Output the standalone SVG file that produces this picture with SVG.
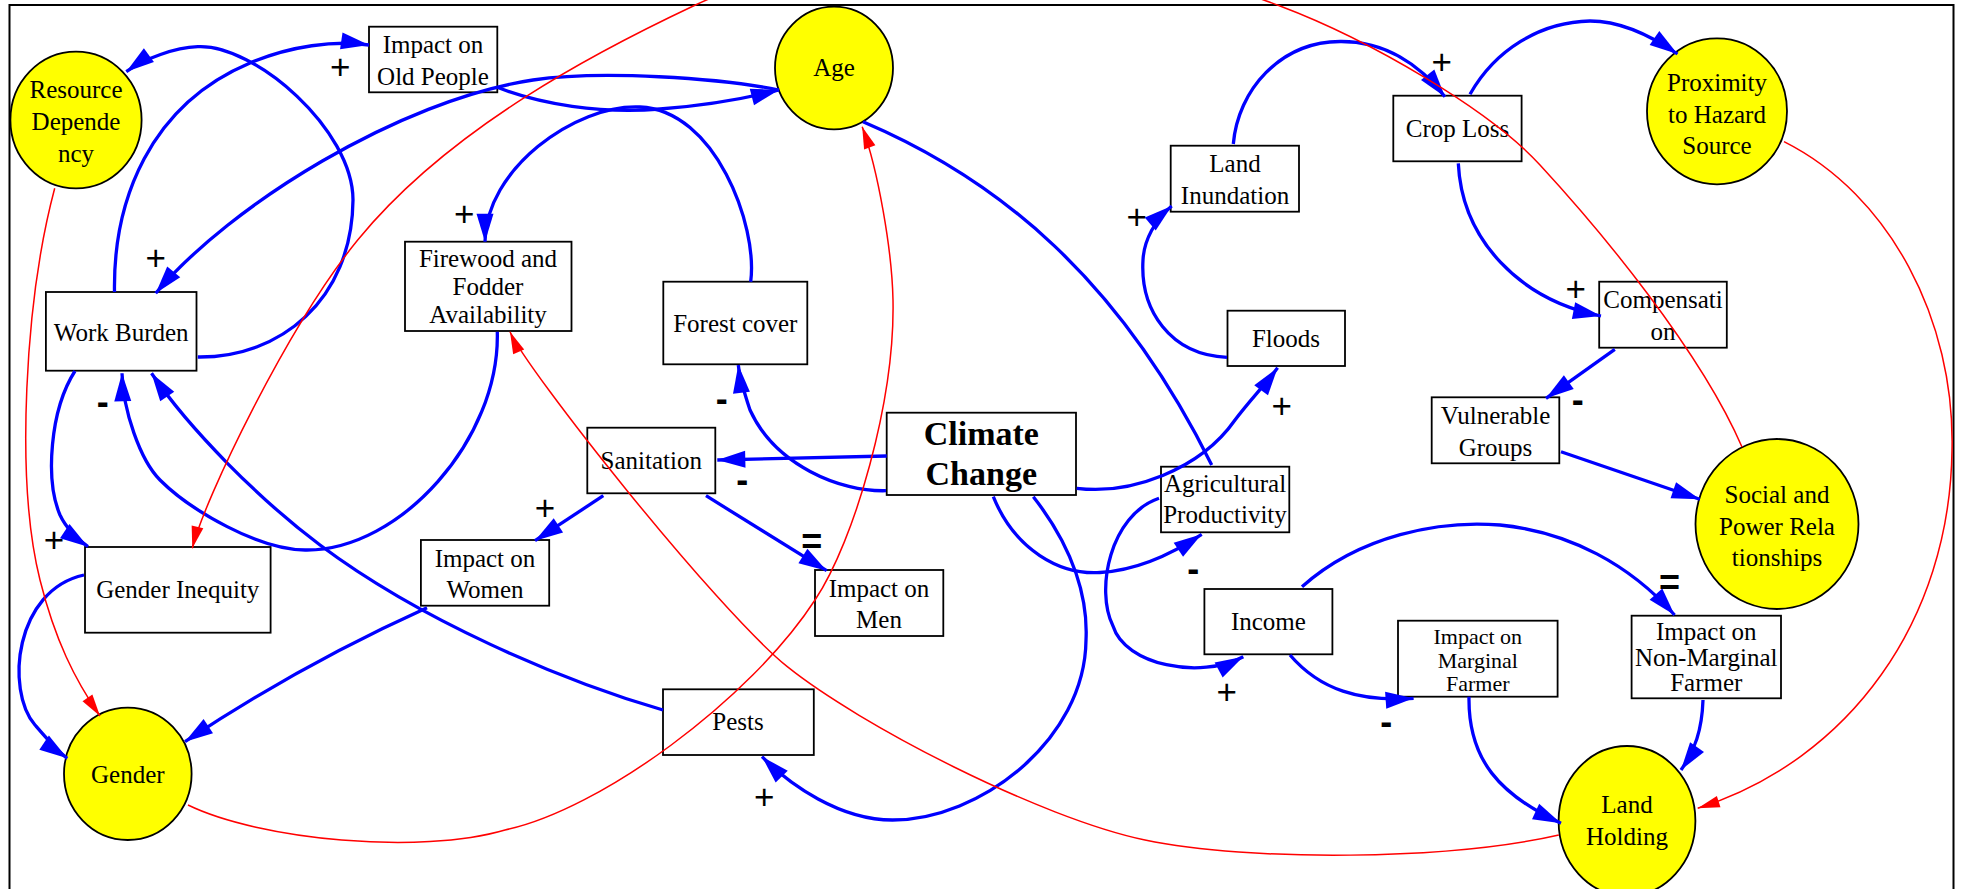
<svg xmlns="http://www.w3.org/2000/svg" width="1963" height="889" viewBox="0 0 1963 889">
  <style>
    .box { fill: #ffffff; stroke: #000000; stroke-width: 1.8; }
    .circ { fill: #ffff00; stroke: #000000; stroke-width: 1.8; }
    .t { font-family: "Liberation Serif", "Times New Roman", serif; font-size: 25px; fill: #000; text-anchor: middle; }
    .tight { font-size: 22px; }
    .big { font-family: "Liberation Serif", "Times New Roman", serif; font-size: 34px; font-weight: bold; fill: #000; text-anchor: middle; }
    .pos { stroke: #0000ff; stroke-width: 3.3; fill: none; }
    .neg { stroke: #ff0000; stroke-width: 1.5; fill: none; }
    .ab { marker-end: url(#arrowBlue); }
    .ar { marker-end: url(#arrowRed); }
    .plus { font-family: "Liberation Sans", Arial, sans-serif; font-size: 35px; fill: #000; text-anchor: middle; }
    .minus { font-family: "Liberation Sans", Arial, sans-serif; font-size: 36px; font-weight: bold; fill: #000; text-anchor: middle; }
  </style>
  <defs>
    <marker id="arrowBlue" markerUnits="userSpaceOnUse" markerWidth="28" markerHeight="18" refX="28" refY="9" orient="auto" overflow="visible">
      <path d="M0,0.5 L28,9 L0,17.5 z" fill="#0000ff"/>
    </marker>
    <marker id="arrowRed" markerUnits="userSpaceOnUse" markerWidth="22" markerHeight="12" refX="22" refY="6" orient="auto" overflow="visible">
      <path d="M0,0 L22,6 L0,12 z" fill="#ff0000"/>
    </marker>
  </defs>

  <rect x="0" y="0" width="1963" height="889" fill="#ffffff"/>
  <!-- outer frame -->
  <rect x="9.5" y="5" width="1944" height="900" fill="none" stroke="#000" stroke-width="2"/>

  <!-- nodes -->
  <g id="resource-dependency">
    <ellipse class="circ" cx="76" cy="120" rx="65.6" ry="68.3"/>
    <text class="t" x="76" y="98.3">Resource</text>
    <text class="t" x="76" y="130">Depende</text>
    <text class="t" x="76" y="161.7">ncy</text>
  </g>
  <g id="age">
    <ellipse class="circ" cx="834" cy="68" rx="59" ry="61.3"/>
    <text class="t" x="834" y="76">Age</text>
  </g>
  <g id="proximity">
    <ellipse class="circ" cx="1717" cy="111.3" rx="70" ry="73"/>
    <text class="t" x="1717" y="90.7">Proximity</text>
    <text class="t" x="1717" y="122.7">to Hazard</text>
    <text class="t" x="1717" y="154">Source</text>
  </g>
  <g id="social-power">
    <ellipse class="circ" cx="1777" cy="524" rx="81.5" ry="85"/>
    <text class="t" x="1777" y="503.3">Social and</text>
    <text class="t" x="1777" y="535">Power Rela</text>
    <text class="t" x="1777" y="566">tionships</text>
  </g>
  <g id="gender">
    <ellipse class="circ" cx="127.8" cy="773.8" rx="63.8" ry="66.2"/>
    <text class="t" x="127.8" y="783.3">Gender</text>
  </g>
  <g id="land-holding">
    <ellipse class="circ" cx="1627" cy="821" rx="68.4" ry="75"/>
    <text class="t" x="1627" y="813.3">Land</text>
    <text class="t" x="1627" y="845">Holding</text>
  </g>

  <g id="impact-old-people">
    <rect class="box" x="369" y="26.7" width="128.3" height="65.6"/>
    <text class="t" x="433" y="53.3">Impact on</text>
    <text class="t" x="433" y="85">Old People</text>
  </g>
  <g id="work-burden">
    <rect class="box" x="45.9" y="292" width="150.6" height="78.7"/>
    <text class="t" x="121.2" y="340.7">Work Burden</text>
  </g>
  <g id="firewood">
    <rect class="box" x="405" y="241.7" width="166.5" height="89.3"/>
    <text class="t" x="488" y="266.7">Firewood and</text>
    <text class="t" x="488" y="295">Fodder</text>
    <text class="t" x="488" y="323.3">Availability</text>
  </g>
  <g id="forest-cover">
    <rect class="box" x="663.3" y="281.7" width="144" height="82.6"/>
    <text class="t" x="735.3" y="331.7">Forest cover</text>
  </g>
  <g id="land-inundation">
    <rect class="box" x="1170.7" y="145.7" width="128.3" height="66"/>
    <text class="t" x="1235" y="171.7">Land</text>
    <text class="t" x="1235" y="204">Inundation</text>
  </g>
  <g id="crop-loss">
    <rect class="box" x="1393.3" y="95.7" width="128.3" height="65.6"/>
    <text class="t" x="1457.5" y="137.3">Crop Loss</text>
  </g>
  <g id="floods">
    <rect class="box" x="1227.5" y="310.7" width="117.5" height="55.3"/>
    <text class="t" x="1286" y="346.7">Floods</text>
  </g>
  <g id="compensation">
    <rect class="box" x="1599.2" y="281.7" width="127.6" height="66"/>
    <text class="t" x="1663" y="308.3">Compensati</text>
    <text class="t" x="1663" y="340">on</text>
  </g>
  <g id="sanitation">
    <rect class="box" x="587.3" y="427.7" width="128" height="65.6"/>
    <text class="t" x="651.3" y="469.3">Sanitation</text>
  </g>
  <g id="climate-change">
    <rect class="box" x="886.7" y="412.7" width="189.3" height="82.3"/>
    <text class="big" x="981.3" y="445">Climate</text>
    <text class="big" x="981.3" y="485">Change</text>
  </g>
  <g id="agricultural-productivity">
    <rect class="box" x="1161" y="466.7" width="128.3" height="65.6"/>
    <text class="t" x="1225" y="491.7">Agricultural</text>
    <text class="t" x="1225" y="523.3">Productivity</text>
  </g>
  <g id="vulnerable-groups">
    <rect class="box" x="1431.7" y="397.3" width="127.6" height="66"/>
    <text class="t" x="1495.5" y="424">Vulnerable</text>
    <text class="t" x="1495.5" y="455.5">Groups</text>
  </g>
  <g id="gender-inequity">
    <rect class="box" x="85" y="547" width="185.6" height="85.7"/>
    <text class="t" x="177.8" y="598.3">Gender Inequity</text>
  </g>
  <g id="impact-women">
    <rect class="box" x="420.9" y="540" width="128.3" height="65.7"/>
    <text class="t" x="485" y="566.7">Impact on</text>
    <text class="t" x="485" y="598.3">Women</text>
  </g>
  <g id="impact-men">
    <rect class="box" x="815" y="570" width="128.3" height="66"/>
    <text class="t" x="879" y="597.3">Impact on</text>
    <text class="t" x="879" y="628.3">Men</text>
  </g>
  <g id="income">
    <rect class="box" x="1204.4" y="589" width="128" height="65.3"/>
    <text class="t" x="1268.4" y="630">Income</text>
  </g>
  <g id="impact-marginal">
    <rect class="box" x="1398" y="620.7" width="159.6" height="76"/>
    <text class="t tight" x="1477.8" y="644">Impact on</text>
    <text class="t tight" x="1477.8" y="668">Marginal</text>
    <text class="t tight" x="1477.8" y="691">Farmer</text>
  </g>
  <g id="impact-non-marginal">
    <rect class="box" x="1631.6" y="615.7" width="149.4" height="82.6"/>
    <text class="t" x="1706.3" y="640">Impact on</text>
    <text class="t" x="1706.3" y="666">Non-Marginal</text>
    <text class="t" x="1706.3" y="690.7">Farmer</text>
  </g>
  <g id="pests">
    <rect class="box" x="663" y="689.3" width="150.8" height="65.7"/>
    <text class="t" x="738" y="730">Pests</text>
  </g>

  <!-- connectors -->
  <g id="connectors">
    <!-- blue links -->
    <path class="pos ab" d="M114.5,292 C113,200 150,105 250,63 C290,46 335,40 369,45"/>
    <path class="pos ab" d="M197.8,357 C280,358 352,300 353,200 C353,130 255,44 197.8,46.7 C175,47.7 145,58 126.3,71.7"/>
    <path class="pos ab" d="M779,90 C720,78 600,70 533,80 C400,100 230,205 155.7,293.3"/>
    <path class="pos ab" d="M497.3,87.3 C540,104 600,114 660,109 C700,106 740,100 779,90"/>
    <path class="pos ab" d="M750.7,281.7 C758,225 715,110 640,107 C575,104 485,170 485,241.7"/>
    <path class="pos ab" d="M497.3,331.7 C500,440 400,550 307,550 C260,551 190,510 160,480 C140,460 123,410 122,373.3"/>
    <path class="pos ab" d="M663,710 C560,680 420,620 320,545 C260,500 190,430 151.5,373.3"/>
    <path class="pos ab" d="M84,575 C15,590 5,690 35,725 C47,739 58,752 67.3,758.3"/>
    <path class="pos ab" d="M75,371 C50,410 45,480 60,515 C66,528 78,540 88,546.7"/>
    <path class="pos ab" d="M427,607.7 Q300,665 185,741.7"/>
    <path class="pos ab" d="M603.3,495.7 L535,540.7"/>
    <path class="pos ab" d="M706,495.7 L826.7,570.7"/>
    <path class="pos ab" d="M886.7,456 L717.3,460"/>
    <path class="pos ab" d="M886,490.7 C840,492 775,465 750,410 C745,395 740,380 738.3,365"/>
    <path class="pos ab" d="M1033.3,496.7 C1075,550 1088,600 1086,640 C1085,740 980,820 892.5,820 C840,820 790,785 762,756.7"/>
    <path class="pos ab" d="M993.3,496.7 C1015,550 1060,575 1100,572.5 C1140,570 1175,552 1201.7,534.3"/>
    <path class="pos ab" d="M1159,498.3 C1110,515 1095,590 1113,626 C1125,665 1200,680 1243.3,656.7"/>
    <path class="pos ab" d="M1076.7,488.3 C1130,495 1200,470 1235,420 C1250,400 1265,385 1277.6,367.7"/>
    <path class="pos ab" d="M1227,357.3 C1170,355 1140,310 1143,260 C1144,240 1155,220 1171.7,206"/>
    <path class="pos ab" d="M1233.3,144 C1238,90 1280,42 1340,41.5 C1385,41 1420,65 1445,96.7"/>
    <path class="pos ab" d="M1470,94.3 C1495,50 1540,22 1590,21 C1620,21 1650,35 1677.5,54"/>
    <path class="pos ab" d="M1458.3,163.3 C1462,240 1520,300 1601,316"/>
    <path class="pos ab" d="M1614.8,349.3 L1546,398.3"/>
    <path class="pos ab" d="M1561,451.7 L1699.8,499.3"/>
    <path class="pos ab" d="M1302,586.7 C1360,535 1440,520 1500,525 C1570,532 1630,565 1674.6,615"/>
    <path class="pos ab" d="M1290,655 C1320,690 1360,702 1413.6,698.3"/>
    <path class="pos ab" d="M1469,696.7 C1468,760 1500,795 1561,823.3"/>
    <path class="pos ab" d="M1703,700 C1702,730 1695,750 1681,770"/>
    <path class="pos" d="M863,121.7 C1000,180 1120,280 1211.7,465"/>

    <!-- red links -->
    <path class="neg ar" d="M54.7,188.3 C25,300 15,480 40,580 C55,640 75,680 100,716"/>
    <path class="neg ar" d="M188,805 C260,840 420,855 505,830 C600,810 750,700 815,600 C855,540 895,400 893,300 C892,250 878,170 862.2,126.7"/>
    <path class="neg ar" d="M1742,447 C1700,350 1600,230 1540,165 C1490,110 1370,40 1280,6 C1100,-62 880,-82 693.3,6 C600,50 450,127 357.7,240 C287.7,326 204,500 192.3,548.3"/>
    <path class="neg ar" d="M1784,141.7 C1890,195 1955,320 1952,450 C1950,620 1850,760 1697.7,808.3"/>
    <path class="neg ar" d="M1558.8,835 C1450,860 1250,862 1145,840 C1040,818 860,725 787.3,666.7 C715,608 526,369 510,331.7"/>

    <!-- polarity labels -->
    <text class="plus" x="340.3" y="79">+</text>
    <text class="plus" x="155.7" y="270">+</text>
    <text class="plus" x="464.3" y="226">+</text>
    <text class="minus" x="102.7" y="414">-</text>
    <text class="plus" x="53.9" y="552">+</text>
    <text class="plus" x="545" y="520">+</text>
    <text class="minus" x="811.7" y="553.5">=</text>
    <text class="minus" x="721.7" y="411">-</text>
    <text class="minus" x="742.3" y="492">-</text>
    <text class="plus" x="764.2" y="809">+</text>
    <text class="minus" x="1193.3" y="581">-</text>
    <text class="plus" x="1226.7" y="704">+</text>
    <text class="plus" x="1281.7" y="417.5">+</text>
    <text class="plus" x="1136.7" y="229">+</text>
    <text class="plus" x="1441.7" y="74">+</text>
    <text class="plus" x="1575.7" y="301">+</text>
    <text class="minus" x="1577.8" y="412">-</text>
    <text class="minus" x="1669.5" y="594.5">=</text>
    <text class="minus" x="1386.3" y="734">-</text>
  </g>
</svg>
